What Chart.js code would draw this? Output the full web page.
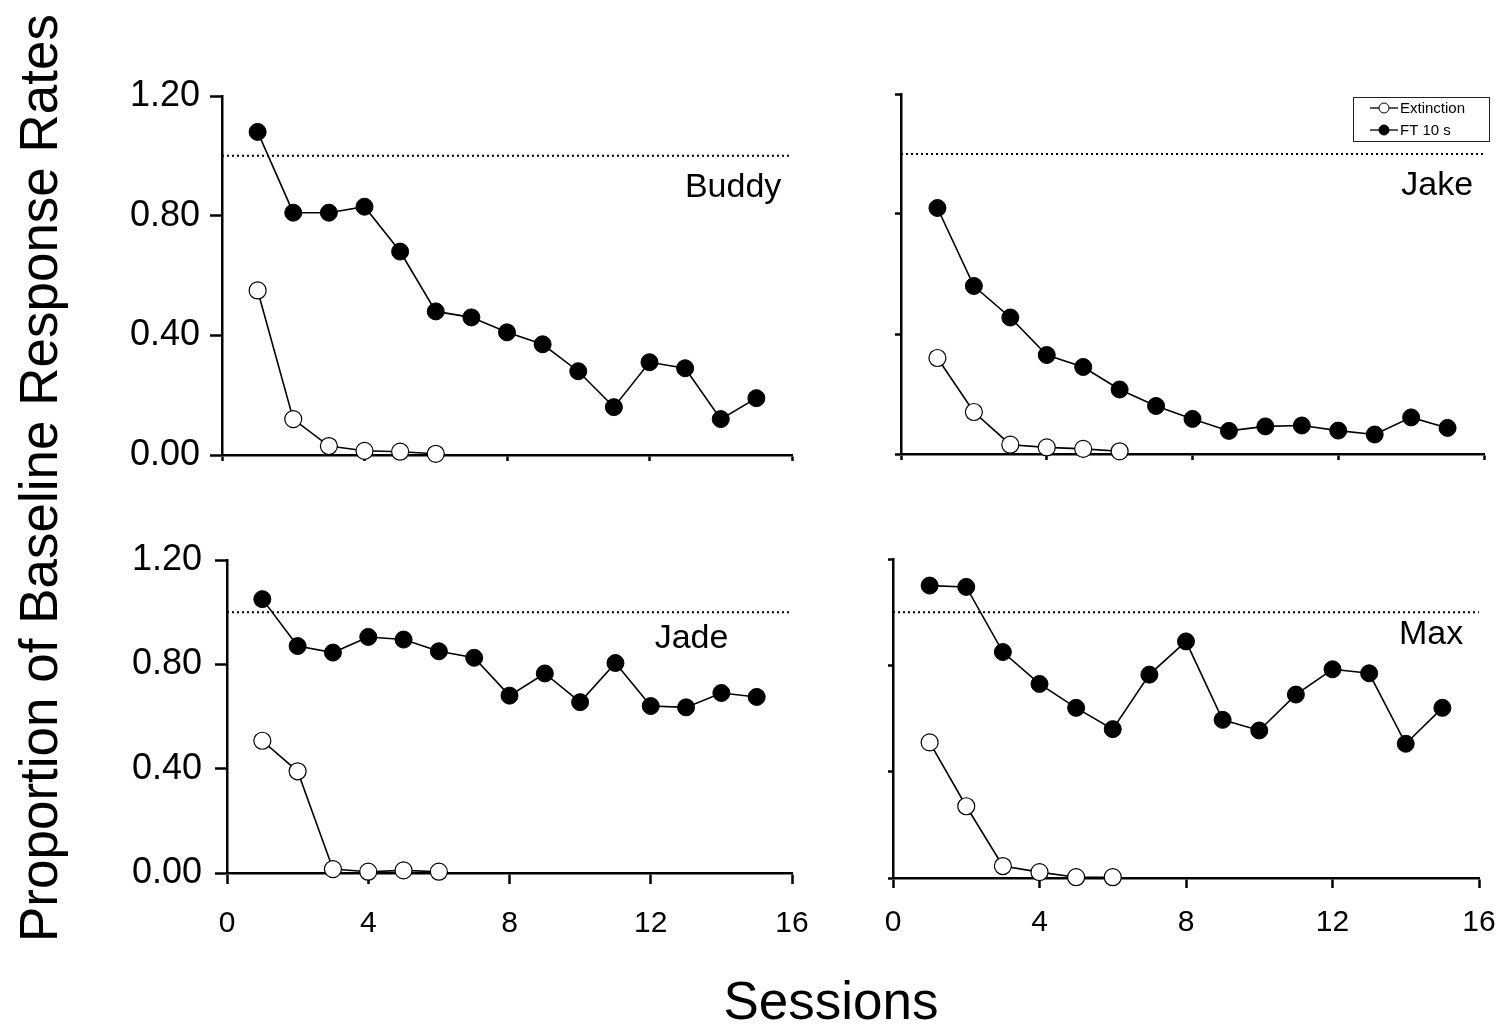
<!DOCTYPE html>
<html><head><meta charset="utf-8">
<script src="https://cdn.jsdelivr.net/npm/chart.js@4.4.1/dist/chart.umd.min.js"></script>
<style>
html,body{margin:0;padding:0;background:#fff;width:1506px;height:1028px;overflow:hidden;position:relative;}
canvas{position:absolute;}
.t{position:absolute;font-family:"Liberation Sans",Arial,sans-serif;color:#000;white-space:nowrap;line-height:1;}
#ytitle{left:38px;top:478px;font-size:53px;transform:translate(-50%,-50%) rotate(-90deg);}
#xtitle{left:831px;top:1000px;font-size:53px;transform:translate(-50%,-50%);}
</style></head><body>
<div class="t" id="ytitle">Proportion of Baseline Response Rates</div>
<div class="t" id="xtitle">Sessions</div>
<canvas id="c0"></canvas><canvas id="c1"></canvas><canvas id="c2"></canvas><canvas id="c3"></canvas>
<script>
// ---- data ----
const sessions = [1,2,3,4,5,6,7,8,9,10,11,12,13,14,15];
const extSessions = [1,2,3,4,5,6];
const seriesNames = ['Extinction','FT 10 s'];
const panelNames = ['Buddy','Jake','Jade','Max'];
const xTicks = [0,4,8,12,16];
const yTicks = [0,0.4,0.8,1.2];
const baseline = 1.0;

const buddyFT  = [1.08,0.81,0.81,0.83,0.68,0.48,0.46,0.41,0.37,0.28,0.16,0.31,0.29,0.12,0.19];
const buddyExt = [0.55,0.12,0.03,0.014,0.011,0.004];
const jakeFT   = [0.82,0.56,0.455,0.33,0.29,0.215,0.16,0.117,0.077,0.092,0.095,0.078,0.065,0.122,0.087];
const jakeExt  = [0.32,0.14,0.031,0.022,0.017,0.009];
const jadeFT   = [1.05,0.87,0.845,0.905,0.895,0.85,0.825,0.68,0.765,0.655,0.805,0.64,0.635,0.69,0.675];
const jadeExt  = [0.507,0.39,0.015,0.005,0.01,0.005];
const maxFT    = [1.10,1.095,0.85,0.73,0.64,0.56,0.765,0.89,0.595,0.555,0.69,0.785,0.77,0.505,0.64];
const maxExt   = [0.51,0.27,0.045,0.022,0.003,0.003];

const FONT = "'Liberation Sans', Arial, sans-serif";

const namePlugin = {
  id: 'panelName',
  afterDatasetsDraw(chart, args, o) {
    const ctx = chart.ctx; ctx.save();
    ctx.font = '34px ' + FONT; ctx.fillStyle = '#000';
    ctx.textAlign = 'right'; ctx.textBaseline = 'middle';
    ctx.fillText(o.text, chart.scales.x.getPixelForValue(o.x), chart.scales.y.getPixelForValue(o.y));
    ctx.restore();
  }
};

const boxLegend = {
  id: 'boxLegend',
  afterDraw(chart, args, o) {
    if (!o.show) return;
    const ctx = chart.ctx, a = chart.chartArea;
    const L = a.right - 131, R = a.right + 5, T = a.top + 3, B = a.top + 47;
    ctx.save();
    ctx.fillStyle = '#fff';
    ctx.fillRect(L, T, R - L, B - T);
    ctx.strokeStyle = '#222'; ctx.lineWidth = 1;
    ctx.strokeRect(L + 0.5, T + 0.5, R - L, B - T);
    const items = [chart.data.datasets[1], chart.data.datasets[0]];
    items.forEach((ds, i) => {
      const y = a.top + 14 + i * 22;
      ctx.strokeStyle = '#000'; ctx.lineWidth = 1.3;
      ctx.beginPath(); ctx.moveTo(L + 17, y); ctx.lineTo(L + 45, y); ctx.stroke();
      ctx.beginPath(); ctx.arc(L + 31, y, 5, 0, Math.PI * 2);
      ctx.fillStyle = ds.pointBackgroundColor; ctx.fill();
      ctx.lineWidth = 1; ctx.stroke();
      ctx.fillStyle = '#000'; ctx.font = '15px ' + FONT;
      ctx.textAlign = 'left'; ctx.textBaseline = 'middle';
      ctx.fillText(ds.label, L + 47, y + 1);
    });
    ctx.restore();
  }
};

function makePanel(id, area, ft, ext, nameCfg, o) {
  const PL = 130, PT = 30, PR = 30, PB = 80;
  const cv = document.getElementById(id);
  const w = area.r - area.l + PL + PR, h = area.b - area.t + PT + PB;
  cv.width = w; cv.height = h;
  cv.style.left = (area.l - PL) + 'px'; cv.style.top = (area.t - PT) + 'px';
  cv.style.width = w + 'px'; cv.style.height = h + 'px';
  const chart = new Chart(cv, {
    type: 'line',
    data: { datasets: [
      { label: seriesNames[1], data: sessions.map((s, i) => ({x: s, y: ft[i]})),
        borderColor: '#000', borderWidth: 1.6, pointRadius: 8.5, pointBackgroundColor: '#000',
        pointBorderColor: '#000', pointBorderWidth: 1, clip: false, order: 1 },
      { label: seriesNames[0], data: extSessions.map((s, i) => ({x: s, y: ext[i]})),
        borderColor: '#000', borderWidth: 1.6, pointRadius: 8.5, pointBackgroundColor: '#fff',
        pointBorderColor: '#000', pointBorderWidth: 1.2, clip: false, order: 2 },
      { label: 'baseline', data: [{x: xTicks[0], y: baseline}, {x: xTicks[xTicks.length - 1], y: baseline}],
        borderColor: '#000', borderWidth: 2, borderDash: [2, 3], pointRadius: 0, clip: false, order: 3 }
    ]},
    options: {
      responsive: false, animation: false, devicePixelRatio: 1,
      layout: { padding: { left: 0, top: PT, right: PR, bottom: 0 } },
      plugins: { legend: { display: false }, tooltip: { enabled: false },
        panelName: nameCfg, boxLegend: { show: !!o.legend } },
      scales: {
        x: { type: 'linear', min: xTicks[0], max: xTicks[xTicks.length - 1],
          afterBuildTicks: ax => { ax.ticks = xTicks.map(v => ({value: v})); },
          afterFit: ax => { ax.height = PB; ax.paddingLeft = 0; ax.paddingRight = 0; },
          grid: { drawOnChartArea: false, tickLength: o.xTick, tickWidth: 2.5, tickColor: '#000' },
          border: { color: '#000', width: 2.5 },
          ticks: { display: o.xLabels, color: '#000', font: { family: FONT, size: 30 }, padding: o.xPad, maxRotation: 0, minRotation: 0, autoSkip: false } },
        y: { type: 'linear', min: yTicks[0], max: yTicks[yTicks.length - 1],
          afterBuildTicks: ax => { ax.ticks = yTicks.map(v => ({value: v})); },
          afterFit: ax => { ax.width = PL; ax.paddingTop = 0; ax.paddingBottom = 0; },
          grid: { drawOnChartArea: false, tickLength: o.yTick, tickWidth: 2.5, tickColor: '#000' },
          border: { color: '#000', width: 2.5 },
          ticks: { display: o.yLabels, color: '#000', font: { family: FONT, size: 36 }, padding: o.yPad, autoSkip: false,
            callback: v => Number(v).toFixed(2) } }
      }
    },
    plugins: [namePlugin, boxLegend]
  });
  // correct any layout drift so the plot area lands on the target rectangle
  const ca = chart.chartArea;
  const dW = (area.r - area.l) - (ca.right - ca.left);
  const dH = (area.b - area.t) - (ca.bottom - ca.top);
  if (Math.abs(dW) > 0.5 || Math.abs(dH) > 0.5) {
    const nw = w + dW, nh = h + dH;
    chart.resize(nw, nh);
    cv.style.width = nw + 'px'; cv.style.height = nh + 'px';
    const c2 = chart.chartArea;
    cv.style.left = (area.l - c2.left) + 'px';
    cv.style.top = (area.t - c2.top) + 'px';
  }
}

makePanel('c0', {l: 222, t: 96, r: 792, b: 455}, buddyFT, buddyExt,
  {text: panelNames[0], x: 15.7, y: 0.895}, {xTick: 6, yTick: 12, xLabels: false, yLabels: true, yPad: 10, xPad: 10});
makePanel('c1', {l: 901, t: 94, r: 1484, b: 454}, jakeFT, jakeExt,
  {text: panelNames[1], x: 15.7, y: 0.895}, {xTick: 6, yTick: 6, xLabels: false, yLabels: false, yPad: 10, xPad: 10, legend: true});
makePanel('c2', {l: 227, t: 560, r: 792, b: 873}, jadeFT, jadeExt,
  {text: panelNames[2], x: 14.2, y: 0.9}, {xTick: 11, yTick: 12, xLabels: true, yLabels: true, yPad: 13, xPad: 22});
makePanel('c3', {l: 893, t: 559, r: 1479, b: 878}, maxFT, maxExt,
  {text: panelNames[3], x: 15.57, y: 0.915}, {xTick: 10, yTick: 5, xLabels: true, yLabels: false, yPad: 10, xPad: 17});
</script>
</body></html>
